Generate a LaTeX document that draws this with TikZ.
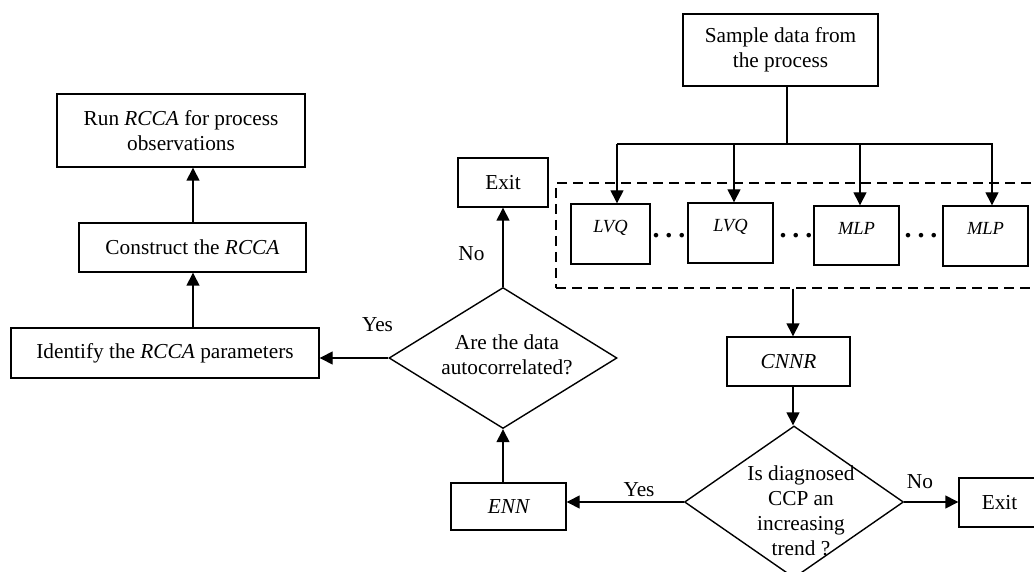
\documentclass[tikz,border=0pt]{standalone}
\usepackage{fontspec}
\setmainfont{Liberation Serif}
\usetikzlibrary{arrows.meta,shapes.geometric}

\tikzset{
  base/.style={font=\fontsize{21.3}{25}\selectfont},
  flowbox/.style={base, draw, line width=1.4pt, inner sep=0pt, align=center},
  netbox/.style={flowbox, font=\fontsize{18.5}{22}\selectfont\itshape,
                 text height=12pt, text depth=14pt},
  decision/.style={draw, diamond, line width=1.4pt, inner sep=0pt},
  group/.style={draw, line width=1.4pt, dash pattern=on 10pt off 6pt, inner sep=0pt},
  plain/.style={base, inner sep=0pt, align=center},
  ellip/.style={font=\fontsize{28}{28}\selectfont\bfseries, inner sep=0pt, anchor=base},
  link/.style={line width=1.4pt},
  flow/.style={link, -{Triangle[length=13pt,width=13pt]}},
}

\begin{document}
\begin{tikzpicture}[x=1pt, y=-1pt]
\useasboundingbox (0,0) rectangle (1034,572);
\clip (0,0) rectangle (1034,572);

% ---------- left column ----------
\node[flowbox, minimum width=248pt, minimum height=73pt] (run) at (181,130.5)
  {Run \textit{RCCA} for process\\observations};
\node[flowbox, minimum width=227pt, minimum height=49pt] (construct) at (192.5,247.5)
  {Construct the \textit{RCCA}};
\node[flowbox, minimum width=308pt, minimum height=50pt] (identify) at (165,353)
  {Identify the \textit{RCCA} parameters};
\coordinate (colx) at (193,0);

% ---------- first decision ----------
\node[flowbox, minimum width=90pt, minimum height=49pt] (exitA) at (503,182.5) {Exit};
\node[decision, minimum width=228pt, minimum height=141pt] (dA) at (503,358) {};
\node[plain] (dAtext) at (507,355) {Are the data\\autocorrelated?};
\node[flowbox, minimum width=115pt, minimum height=47pt, font=\fontsize{21.3}{25}\selectfont\itshape]
  (enn) at (508.5,506.5) {ENN};

% ---------- right column ----------
\node[flowbox, minimum width=195pt, minimum height=72pt] (sample) at (780.5,50)
  {Sample data from\\the process};

\node[group, minimum width=489pt, minimum height=105pt] (nets) at (800.5,235.5) {};
\node[netbox, minimum width=79pt, minimum height=60pt] (lvqA) at (610.5,234) {LVQ};
\node[netbox, minimum width=85pt, minimum height=60pt] (lvqB) at (730.5,233) {LVQ};
\node[netbox, minimum width=85pt, minimum height=59pt] (mlpA) at (856.5,235.5) {MLP};
\node[netbox, minimum width=85pt, minimum height=60pt] (mlpB) at (985.5,236) {MLP};
\node[ellip] (dotsA) at (669,237.5) {.\hspace{6pt}.\hspace{6pt}.};
\node[ellip] (dotsB) at (796,237.5) {.\hspace{6pt}.\hspace{6pt}.};
\node[ellip] (dotsC) at (921,237.5) {.\hspace{6pt}.\hspace{6pt}.};

\node[flowbox, minimum width=123pt, minimum height=49pt, font=\fontsize{21.3}{25}\selectfont\itshape]
  (cnnr) at (788.5,361.5) {CNNR};
\node[decision, minimum width=219pt, minimum height=152pt] (dB) at (794,502) {};
\node[plain] (dBtext) at (801,511) {Is diagnosed\\CCP an\\increasing\\trend ?};
\node[flowbox, minimum width=81pt, minimum height=49pt] (exitB) at (999.5,502.5) {Exit};

% ---------- distribution bus ----------
\coordinate (stem) at (787,144);
\coordinate (busL) at (617,144);
\coordinate (busB) at (734,144);
\coordinate (busC) at (860,144);
\coordinate (busR) at (993,144);
\draw[link] (sample.south -| stem) -- (stem);
\draw[link] (busL) -- (busR);
\draw[flow] (busL) -- (busL |- lvqA.north);
\draw[flow] (busB) -- (busB |- lvqB.north);
\draw[flow] (busC) -- (busC |- mlpA.north);
\draw[flow] ([xshift=-1pt]busR) -- ([xshift=-1pt]busR |- mlpB.north);

% ---------- main flow ----------
\coordinate (trunk) at (793,0);
\draw[flow] (nets.south -| trunk) -- (cnnr.north -| trunk);
\draw[flow] (cnnr.south -| trunk) -- (dB.north -| trunk);
\draw[flow] (dB.west) -- (dB.west -| enn.east);
\draw[flow] (dB.east) -- (dB.east -| exitB.west);
\draw[flow] (enn.north -| dA.south) -- (dA.south);
\draw[flow] (dA.north) -- (exitA.south);
\draw[flow] (dA.west) -- (dA.west -| identify.east);
\draw[flow] (identify.north -| colx) -- (construct.south -| colx);
\draw[flow] (construct.north -| colx) -- (run.south -| colx);

% ---------- branch labels ----------
\node[plain] (yesA) at (377.5,325) {Yes};
\node[plain] (noA) at (471.5,254) {No};
\node[plain] (yesB) at (639,490) {Yes};
\node[plain] (noB) at (920,482) {No};
\end{tikzpicture}
\end{document}
